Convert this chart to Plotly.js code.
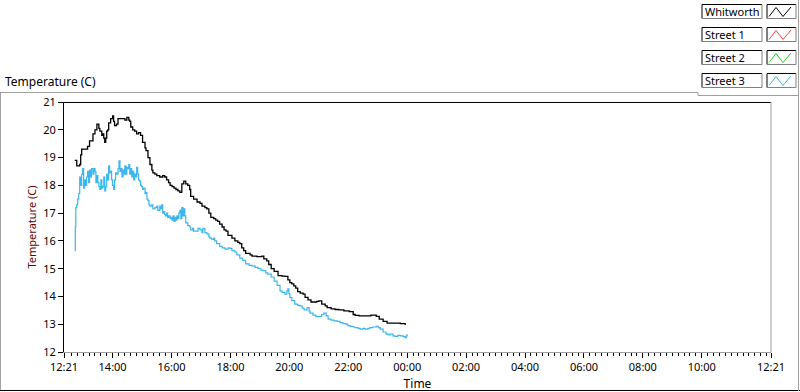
<!DOCTYPE html>
<html>
<head>
<meta charset="utf-8">
<script src="https://cdn.plot.ly/plotly-3.0.1.min.js"></script>
<style>
  html, body { margin: 0; padding: 0; background: #fff; }
  #chart { width: 800px; height: 392px; }
</style>
</head>
<body>
<div id="chart"></div>
<script>
// ---- Data (x = minutes elapsed since 12:21) ----
const seriesNames = ["Whitworth", "Street 1", "Street 2", "Street 3"];
const seriesColors = ["#000000", "#ff4040", "#20d820", "#3cb6ee"];

const whitworthMin = [22,24,26,30,32,34,36,44,48,52,59,63,67,71,73,77,79,81,83,85,87,89,91,95,99,101,103,107,110,118,124,128,132,134,136,140,144,148,152,156,160,165,167,171,175,179,181,185,189,195,201,205,209,213,216,220,224,228,232,236,240,244,248,252,256,258,264,271,277,281,287,291,295,299,305,309,313,317,322,326,330,334,342,348,354,358,362,366,370,379,383,393,403,407,413,417,422,428,436,444,450,456,460,464,468,472,476,481,487,491,497,503,507,515,519,525,532,536,544,552,560,570,581,589,593,601,613,625,636,642,650,658,668,685,695,699];
const whitworthTemp = [18.9,18.9,18.7,18.7,18.75,19.1,19.3,19.3,19.4,19.6,19.85,20.0,20.2,20.05,19.95,19.8,19.85,19.7,19.55,19.7,19.95,20.0,20.25,20.4,20.5,20.3,20.15,20.2,20.4,20.4,20.35,20.45,20.35,20.3,20.1,20.0,19.95,19.85,19.9,19.8,19.55,19.35,19.25,19.0,18.75,18.55,18.45,18.4,18.35,18.3,18.35,18.3,18.2,18.1,18.0,17.95,17.9,17.85,17.8,17.75,18.05,18.15,18.05,18.0,17.85,17.6,17.5,17.4,17.35,17.25,17.2,17.15,17.0,16.85,16.8,16.75,16.7,16.6,16.5,16.4,16.35,16.2,16.1,16.0,15.95,15.9,15.75,15.65,15.55,15.5,15.45,15.43,15.45,15.35,15.28,15.15,15.0,14.9,14.75,14.73,14.72,14.6,14.5,14.45,14.38,14.3,14.17,14.12,14.08,13.97,13.88,13.8,13.8,13.82,13.84,13.72,13.66,13.6,13.55,13.53,13.52,13.48,13.45,13.35,13.32,13.3,13.3,13.33,13.28,13.18,13.1,13.04,13.04,13.02,12.97];

const street1Min = [];
const street1Temp = [];
const street2Min = [];
const street2Temp = [];

const street3Min = [22,23,24,26,28,30,32,34,36,38,40,42,44,46,48,50,52,54,56,59,61,63,65,67,69,71,73,75,77,79,81,83,85,87,89,91,93,95,97,99,101,103,105,107,110,112,114,116,118,120,122,124,126,128,130,132,134,136,138,140,142,144,146,148,150,152,154,156,158,160,162,165,167,169,171,173,175,179,181,185,189,191,195,197,199,201,203,205,207,209,211,213,216,218,220,222,224,226,228,230,232,234,236,238,240,242,244,246,248,252,256,258,262,264,269,273,277,281,283,287,291,295,297,301,305,307,311,317,322,328,334,338,342,348,352,358,364,370,377,383,389,395,401,405,411,415,422,428,434,440,444,450,454,456,458,460,464,470,476,481,485,489,495,499,501,507,513,521,525,529,534,538,544,550,556,562,568,574,578,583,589,593,599,603,609,613,619,623,629,636,640,644,650,656,660,664,670,674,680,685,691,695,697,699];
const street3Temp = [15.65,16.5,17.2,17.3,17.5,17.7,18.3,18.0,18.4,18.6,17.9,18.2,18.0,18.3,18.5,18.1,18.55,18.3,18.6,18.4,18.6,18.5,18.1,18.35,18.1,17.95,17.85,18.2,17.9,17.95,18.3,17.8,17.95,18.4,18.2,18.7,18.45,18.5,18.2,18.0,17.85,18.2,18.45,18.4,18.6,18.88,18.5,18.6,18.3,18.55,18.4,18.7,18.4,18.65,18.6,18.75,18.4,18.6,18.3,18.5,18.2,18.4,18.3,18.65,18.4,18.2,18.15,18.0,17.95,17.85,17.9,17.7,17.75,17.5,17.45,17.3,17.25,17.3,17.15,17.2,17.25,17.1,17.25,17.15,17.3,17.0,17.05,16.95,16.9,17.0,16.85,16.9,16.8,16.85,16.75,16.9,16.7,16.85,16.75,16.9,16.8,17.0,17.1,16.8,17.2,16.9,17.15,16.9,16.65,16.55,16.5,16.4,16.45,16.35,16.35,16.45,16.4,16.3,16.45,16.3,16.25,16.15,16.1,16.05,16.1,16.0,15.9,15.8,15.75,15.7,15.75,15.73,15.65,15.6,15.5,15.38,15.3,15.17,15.12,15.1,15.05,15.0,14.95,14.93,14.85,14.8,14.7,14.55,14.4,14.2,14.15,14.08,14.2,14.27,14.1,13.96,13.85,13.72,13.68,13.66,13.58,13.52,13.6,13.48,13.4,13.33,13.27,13.28,13.35,13.4,13.3,13.18,13.15,13.12,13.1,13.06,13.02,13.0,12.95,12.92,12.9,12.88,12.85,12.82,12.85,12.82,12.85,12.88,12.9,12.92,12.88,12.82,12.72,12.64,12.62,12.64,12.58,12.56,12.6,12.58,12.55,12.52,12.58,12.64];

const xTickVals = [0,99,219,339,459,579,699,819,939,1059,1179,1299,1440];
const xTickText = ["12:21","14:00","16:00","18:00","20:00","22:00","00:00","02:00","04:00","06:00","08:00","10:00","12:21"];
const yTickVals = [12,13,14,15,16,17,18,19,20,21];

// ---- Layout geometry (pixels) ----
const W = 800, H = 392;
const PL = 64, PR = 771, PT = 102, PB = 352;
const px = v => (v - PL) / (PR - PL);
const py = v => (PB - v) / (PB - PT);

// minor ticks every 12 minutes aligned on the even hours
const minorVals = [];
for (let m = 99 - 12 * 8; m < 1440; m += 12) {
  if (m > 6 && m < 1436 && xTickVals.indexOf(m) < 0) minorVals.push(m);
}

const FONT = "Noto Sans, DejaVu Sans, sans-serif";

const traces = [
  [whitworthMin, whitworthTemp],
  [street1Min, street1Temp],
  [street2Min, street2Temp],
  [street3Min, street3Temp]
].map((d, i) => ({
  type: "scatter", mode: "lines", name: seriesNames[i],
  x: d[0], y: d[1],
  line: { color: seriesColors[i], width: i === 0 ? 1.3 : 1.2, shape: "hv" },
  showlegend: false
}));
// draw Whitworth on top
const data = [traces[3], traces[2], traces[1], traces[0]];

const shapes = [];
const L = (x0, y0, x1, y1, c) => shapes.push({
  type: "line", xref: "paper", yref: "paper",
  x0: px(x0), y0: py(y0), x1: px(x1), y1: py(y1),
  line: { color: c, width: 1 }
});
// plot frame: top black, right gray
L(PL, PT + 0.5, PR, PT + 0.5, "#000000");
L(PR, PT, PR, PB, "#a0a0a0");
// outer panel
L(0, 92.5, 698, 92.5, "#a0a0a0");
L(0.5, 92.5, 0.5, 391, "#a0a0a0");
L(0, 390.5, 800, 390.5, "#000000");
L(798.5, 0, 798.5, 391, "#a0a0a0");
L(698, 92.5, 698, 95.5, "#a0a0a0");
L(698, 95.5, 798.5, 95.5, "#a0a0a0");

// legend boxes
const annotations = [];
const rowTop = [4.5, 27.5, 50.5, 73.5];
seriesNames.forEach((n, i) => {
  const t = rowTop[i], b = t + 14;
  [[702, 762], [767, 796]].forEach(([a, z]) => {
    L(a, t, z, t, "#000000");
    L(a, t, a, b, "#000000");
    L(a, b, z, b, "#808080");
    L(z, t, z, b, "#808080");
  });
  const pts = [[769, b - 2], [776, t + 3], [783, b - 2], [791, t + 2.5]];
  shapes.push({
    type: "path", xref: "paper", yref: "paper",
    path: "M" + pts.map(p => px(p[0]) + "," + py(p[1])).join(" L"),
    line: { color: seriesColors[i], width: 1 }
  });
  annotations.push({
    xref: "paper", yref: "paper", x: px(703), y: py((t + b) / 2),
    xanchor: "left", yanchor: "middle", showarrow: false,
    text: n, font: { family: FONT, size: 11, color: "#000" }
  });
});

const layout = {
  width: W, height: H,
  margin: { l: PL, r: W - PR, t: PT, b: H - PB, pad: 0 },
  paper_bgcolor: "#ffffff", plot_bgcolor: "#ffffff",
  font: { family: FONT, size: 11, color: "#000" },
  title: {
    text: "Temperature (C)", xref: "container", yref: "container",
    x: 5 / W, y: 1 - 82 / H, xanchor: "left", yanchor: "middle",
    font: { family: FONT, size: 12, color: "#000" }
  },
  xaxis: {
    range: [0, 1440], fixedrange: true,
    tickmode: "array", tickvals: xTickVals, ticktext: xTickText,
    ticks: "outside", ticklen: 5, tickcolor: "#000", tickwidth: 1,
    minor: { tickmode: "array", tickvals: minorVals, ticks: "outside", ticklen: 3, tickcolor: "#000", tickwidth: 1, showgrid: false },
    showline: true, linecolor: "#a0a0a0", linewidth: 1,
    showgrid: false, zeroline: false,
    tickfont: { family: FONT, size: 11, color: "#000" },
    title: { text: "Time", font: { family: FONT, size: 12, color: "#000" }, standoff: 7 }
  },
  yaxis: {
    range: [12, 21], fixedrange: true,
    tickmode: "array", tickvals: yTickVals,
    ticks: "outside", ticklen: 5, tickcolor: "#000", tickwidth: 1,
    showline: true, linecolor: "#000", linewidth: 1,
    showgrid: false, zeroline: false,
    tickfont: { family: FONT, size: 11, color: "#000" },
    title: { text: "Temperature (C)", font: { family: FONT, size: 11, color: "#600000" }, standoff: 4 }
  },
  shapes: shapes,
  annotations: annotations
};

Plotly.newPlot("chart", data, layout, { displayModeBar: false, staticPlot: true });
</script>
</body>
</html>
